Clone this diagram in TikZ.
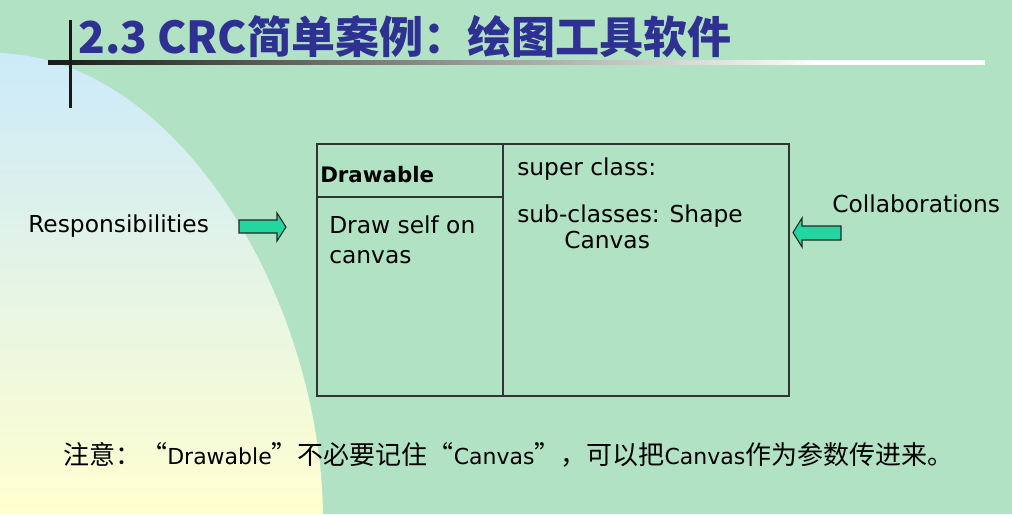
\documentclass[tikz,border=0pt]{standalone}
\usepackage{fontspec}
\setmainfont{DejaVu Sans}
\newfontfamily\cjk{Noto Sans CJK SC}
\usetikzlibrary{positioning}
\definecolor{bggreen}{RGB}{178,226,196}
\definecolor{skyblue}{RGB}{204,234,250}
\definecolor{midtone}{RGB}{226,242,236}
\definecolor{paleyellow}{RGB}{255,255,208}
\definecolor{titleblue}{RGB}{46,49,146}
\definecolor{arrowgreen}{RGB}{35,214,160}
\newcommand\zhtext[1]{{\cjk\fontsize{19.5}{23}\selectfont #1}}

\begin{document}
\begin{tikzpicture}[x=0.75pt,y=-0.75pt,
  card/.style={draw=black!80,line width=0.9pt},
  lbl/.style={anchor=base west,inner sep=0pt,font=\fontsize{17.5}{21}\selectfont},
  blockarrow/.style={draw=black!85,line width=0.8pt,fill=arrowgreen}]
  \fill[bggreen] (0,0) rectangle (1012,514);
  \shade[top color=skyblue,middle color=midtone,bottom color=paleyellow]
    (0,53) .. controls (180,60) and (320,300) .. (323,514) -- (0,514) -- cycle;
  \shade[left color=black!90,right color=black!45] (48,60) rectangle (430,64.5);
  \shade[left color=black!45,right color=white] (430,60) rectangle (820,64.5);
  \fill[white] (820,60) rectangle (985,64.5);
  \fill[black!90] (68.5,20) rectangle (71.5,108);
  \node[anchor=base west,inner sep=0pt,text=titleblue,font=\cjk\bfseries\fontsize{33}{36}\selectfont] (title) at (78,53) {2.3 CRC简单案例：绘图工具软件};

  \draw[card] (317,144) rectangle (789,396);
  \draw[card] (503,144) -- (503,396);
  \draw[card] (317,197) -- (503,197);
  \node[lbl,font=\bfseries\fontsize{16}{20}\selectfont] (clsname) at (320,182) {Drawable};
  \node[lbl] (resp1) at (329,233) {Draw self on};
  \node[lbl] (resp2) at (329,263) {canvas};
  \node[lbl] (super) at (517,175) {super class:};
  \node[lbl] (sub) at (517,222) {sub-classes: Shape};
  \node[lbl] (subcanvas) at (564,248) {Canvas};

  \node[lbl] (resplbl) at (28,232) {Responsibilities};
  \draw[blockarrow] (239,220) -- (277,220) -- (277,213) -- (286,227) -- (277,241) -- (277,233) -- (239,233) -- cycle;
  \node[lbl] (collab) at (832,212) {Collaborations};
  \draw[blockarrow] (841,226) -- (802,226) -- (802,218) -- (793,232.5) -- (802,247) -- (802,240) -- (841,240) -- cycle;

  \node[anchor=base west,inner sep=0pt,font=\fontsize{16.5}{20}\selectfont] (note) at (63,464)
    {\zhtext{注意：“}Drawable\zhtext{”不必要记住“}Canvas\zhtext{”，可以把}Canvas\zhtext{作为参数传进来。}};
\end{tikzpicture}
\end{document}
